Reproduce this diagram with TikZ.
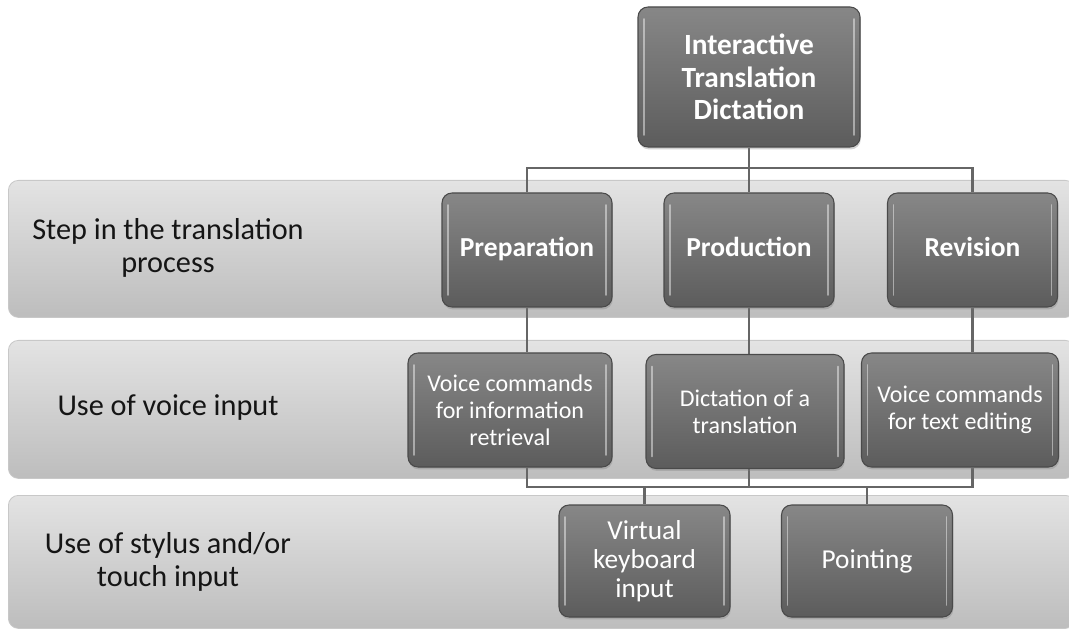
\documentclass[tikz,border=0pt]{standalone}
\usepackage{fontspec}
\setmainfont{Carlito}
\usetikzlibrary{shadows}
\definecolor{boxtop}{HTML}{878787}
\definecolor{boxbot}{HTML}{5C5C5C}
\definecolor{boxline}{HTML}{4A4A4A}
\definecolor{bandtop}{HTML}{E3E3E3}
\definecolor{bandbot}{HTML}{BDBDBD}
\definecolor{bandline}{HTML}{C8C8C8}
\definecolor{conncol}{HTML}{666666}
\definecolor{labcol}{HTML}{151515}
\pgfdeclarelayer{bg}
\pgfdeclarelayer{connlayer}
\pgfsetlayers{bg,connlayer,main}
\tikzset{
  boxbase/.style={rectangle, rounded corners=7.5pt, draw=boxline, line width=0.8pt,
    top color=boxtop, bottom color=boxbot, text=white, align=center, inner sep=0pt,
    drop shadow={opacity=0.35, shadow xshift=0.6pt, shadow yshift=-1.8pt},
    path picture={
      \draw[white, opacity=0.45, line width=1.3pt, line cap=round]
        ([xshift=4.5pt,yshift=-9pt]path picture bounding box.north west) --
        ([xshift=4.5pt,yshift=9pt]path picture bounding box.south west);
      \draw[white, opacity=0.45, line width=1.3pt, line cap=round]
        ([xshift=-4.5pt,yshift=-9pt]path picture bounding box.north east) --
        ([xshift=-4.5pt,yshift=9pt]path picture bounding box.south east);
    }},
  topbox/.style={boxbase, minimum width=166.5pt, minimum height=105pt,
    font=\bfseries\fontsize{22}{24.4}\selectfont},
  stepbox/.style={boxbase, minimum width=127.5pt, minimum height=85.5pt,
    text height=14pt, text depth=4pt,
    font=\bfseries\fontsize{20.6}{23}\selectfont},
  voicebox/.style={boxbase, minimum height=85.5pt,
    font=\fontsize{18}{20.25}\selectfont},
  touchbox/.style={boxbase, minimum width=128.25pt, minimum height=84pt,
    font=\fontsize{20.5}{21.75}\selectfont},
  band/.style={rectangle, rounded corners=7.5pt, draw=bandline, line width=0.6pt,
    top color=bandtop, bottom color=bandbot, anchor=north west, inner sep=0pt,
    minimum width=800.25pt},
  bandlabel/.style={align=center, text=labcol, font=\fontsize{22.7}{24.75}\selectfont},
  connline/.style={draw=conncol, line width=1.6pt}
}
\begin{document}
\begin{tikzpicture}[x=0.75pt,y=-0.75pt]
\useasboundingbox (0,0) rectangle (1069,630);
\clip (0,0) rectangle (1069,630);

% bands
\begin{pgfonlayer}{bg}
\fill[white] (0,0) rectangle (1069,630);
\node[band, minimum height=102.75pt] (band1) at (8,180) {};
\node[band, minimum height=103.5pt] (band2) at (8,340) {};
\node[band, minimum height=99.75pt] (band3) at (8,495) {};
\end{pgfonlayer}

% band labels
\node[bandlabel] (lab1) at (168,248) {Step in the translation\\process};
\node[bandlabel] (lab2) at (168,408) {Use of voice input};
\node[bandlabel] (lab3) at (168,562) {Use of stylus and/or\\touch input};

% boxes
\node[topbox] (top) at (749,77) {Interactive\\Translation\\Dictation};

\node[stepbox] (prep) at (527,250) {Preparation};
\node[stepbox] (prod) at (749,250) {Production};
\node[stepbox] (rev) at (972.5,250) {Revision};

\node[voicebox, minimum width=153pt] (info) at (510,410) {Voice commands\\for information\\retrieval};
\node[voicebox, minimum width=148.5pt] (dict) at (745,411.5) {Dictation of a\\translation};
\node[voicebox, minimum width=147.75pt] (edit) at (960,410) {Voice commands\\for text editing};

\node[touchbox] (virt) at (644.5,561) {Virtual\\keyboard\\input};
\node[touchbox] (point) at (867,561) {Pointing};

% connectors
\begin{pgfonlayer}{connlayer}
\coordinate (j1) at (749,168);
\draw[connline] (top.south) -- (j1);
\draw[connline] (prep.north) |- (j1) -| (rev.north);
\draw[connline] (j1) -- (prod.north);

\draw[connline] (prep.south) -- (prep.south |- info.north);
\draw[connline] (prod.south) -- (prod.south |- dict.north);
\draw[connline] (rev.south) -- (rev.south |- edit.north);

\coordinate (j2) at (749,487);
\draw[connline] (info.south -| prep.south) |- (j2) -| (edit.south -| rev.south);
\draw[connline] (dict.south -| prod.south) -- (j2);
\draw[connline] (virt.north) -- (virt.north |- j2);
\draw[connline] (point.north) -- (point.north |- j2);
\end{pgfonlayer}
\end{tikzpicture}
\end{document}
